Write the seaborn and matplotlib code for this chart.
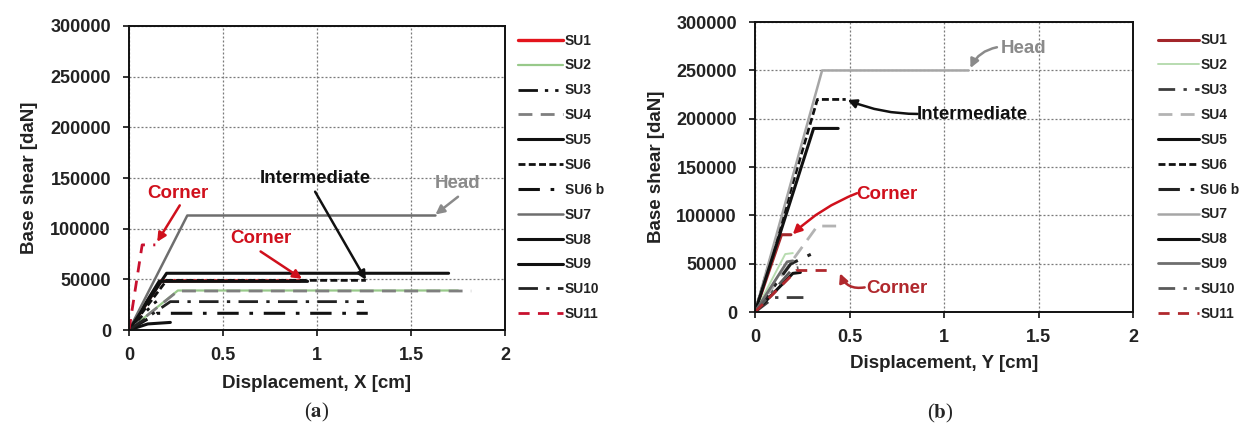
import numpy as np
import pandas as pd
import matplotlib
matplotlib.use("Agg")
import matplotlib.pyplot as plt
import seaborn as sns

# ---- data: bilinear capacity curves (origin -> yield point -> ultimate point)
units = ["SU1", "SU2", "SU3", "SU4", "SU5", "SU6", "SU6 b",
         "SU7", "SU8", "SU9", "SU10", "SU11"]

# X direction
dy_x = [0.17, 0.26, 0.13, 0.26, 0.16, 0.20, 0.15, 0.31, 0.20, 0.10, 0.22, 0.07]
vy_x = [48500, 39000, 26000, 38500, 48000, 49000, 16500, 113000, 56000, 6000, 28000, 84000]
du_x = [0.91, 1.75, 0.16, 1.82, 0.95, 1.26, 1.27, 1.63, 1.70, 0.22, 1.25, 0.14]
vu_x = [48500, 39000, 30000, 38500, 48000, 49000, 16500, 113000, 56000, 7500, 28000, 84000]

# Y direction
dy_y = [0.14, 0.16, 0.10, 0.33, 0.20, 0.33, 0.19, 0.355, 0.31, 0.17, 0.20, 0.22]
vy_y = [80000, 60000, 15000, 89000, 40000, 220000, 50000, 250000, 190000, 52000, 45000, 43000]
du_y = [0.19, 0.20, 0.28, 0.46, 0.24, 0.48, 0.32, 1.13, 0.44, 0.20, 0.23, 0.42]
vu_y = [80000, 61000, 15000, 89000, 41000, 220000, 62000, 250000, 190000, 53000, 46000, 43000]

x_ticks = [0, 0.5, 1, 1.5, 2]
x_tick_labels = ["0", "0.5", "1", "1.5", "2"]
y_ticks = [0, 50000, 100000, 150000, 200000, 250000, 300000]

# ---- styles
DASH = (0, (5, 3))
SHORT = (0, (2.5, 1.2))
DDOT = (0, (7, 2.5, 1.2, 2.5, 1.2, 2.5))
DDOT_B = (0, (7, 3.5, 1.2, 3.5))
SOLID = "-"

style_x = {
    "SU1": ("#e3141c", SOLID, 2.4),
    "SU2": ("#98c98a", SOLID, 1.6),
    "SU3": ("#111111", DDOT, 2.0),
    "SU4": ("#7f7f7f", DASH, 2.0),
    "SU5": ("#111111", SOLID, 2.2),
    "SU6": ("#111111", SHORT, 2.0),
    "SU6 b": ("#111111", DDOT_B, 2.2),
    "SU7": ("#6e6e6e", SOLID, 1.8),
    "SU8": ("#111111", SOLID, 2.2),
    "SU9": ("#111111", SOLID, 2.2),
    "SU10": ("#222222", (0, (7, 3, 1.2, 3)), 2.0),
    "SU11": ("#c8102e", (0, (4, 3)), 2.0),
}
style_y = {
    "SU1": ("#a3262a", SOLID, 2.2),
    "SU2": ("#b8dcb0", SOLID, 1.4),
    "SU3": ("#3c3c3c", (0, (6, 3, 1.2, 3)), 2.0),
    "SU4": ("#b3b3b3", DASH, 2.0),
    "SU5": ("#111111", SOLID, 2.2),
    "SU6": ("#111111", SHORT, 2.0),
    "SU6 b": ("#222222", DDOT_B, 2.2),
    "SU7": ("#a6a6a6", SOLID, 1.8),
    "SU8": ("#111111", SOLID, 2.2),
    "SU9": ("#6e6e6e", SOLID, 2.0),
    "SU10": ("#5a5a5a", (0, (6, 3, 1.2, 3)), 2.0),
    "SU11": ("#b0282d", (0, (4, 3)), 2.0),
}


def curves(dy, vy, du, vu):
    rows = []
    for name, a, b, c, d in zip(units, dy, vy, du, vu):
        rows += [(name, 0.0, 0.0), (name, a, b), (name, c, d)]
    return pd.DataFrame(rows, columns=["unit", "disp", "shear"])


sns.set_theme(style="white")
plt.rcParams["font.family"] = ["Liberation Sans", "DejaVu Sans"]
plt.rcParams["mathtext.fontset"] = "stix"

fig = plt.figure(figsize=(12.5, 4.34), dpi=100)
ax_a = fig.add_axes([0.1032, 0.2396, 0.3008, 0.7005])
ax_b = fig.add_axes([0.604, 0.281, 0.3024, 0.668])

TICK_FS = 13
LAB_FS = 13.5


def draw_panel(ax, df, styles, xlabel, leg_anchor, handle_len):
    for name in units:
        col, ls, lw = styles[name]
        sns.lineplot(data=df[df["unit"] == name], x="disp", y="shear",
                     estimator=None, sort=False, ax=ax, color=col,
                     linestyle=ls, linewidth=lw, label=name)
    ax.set_xlim(0, 2)
    ax.set_ylim(0, 300000)
    ax.set_xticks(x_ticks)
    ax.set_xticklabels(x_tick_labels)
    ax.set_yticks(y_ticks)
    ax.set_yticklabels([f"{v:d}" for v in y_ticks])
    ax.grid(True, color="#7a7a7a", linestyle=(0, (1.6, 1.6)), linewidth=0.9)
    ax.set_axisbelow(True)
    for s in ax.spines.values():
        s.set_color("#111111")
        s.set_linewidth(1.4)
    ax.tick_params(axis="both", direction="out", length=4, width=1.2,
                   color="#111111", labelsize=TICK_FS,
                   bottom=True, left=True)
    ax.tick_params(axis="x", pad=8)
    ax.tick_params(axis="y", pad=9)
    for t in ax.get_xticklabels() + ax.get_yticklabels():
        t.set_fontweight("bold")
        t.set_color("#222222")
    ax.set_xlabel(xlabel, fontsize=LAB_FS, fontweight="bold", color="#222222")
    ax.set_ylabel("Base shear [daN]", fontsize=LAB_FS, fontweight="bold",
                  color="#222222")
    leg = ax.legend(loc="upper left", bbox_to_anchor=leg_anchor,
                    frameon=False, handlelength=handle_len, handletextpad=0.1,
                    labelspacing=0.79, borderaxespad=0.0,
                    prop={"weight": "bold", "size": 9.9})
    for t in leg.get_texts():
        t.set_color("#222222")
    return leg


draw_panel(ax_a, curves(dy_x, vy_x, du_x, vu_x), style_x,
           "Displacement, X [cm]", (1.02, 0.993), 3.3)
draw_panel(ax_b, curves(dy_y, vy_y, du_y, vu_y), style_y,
           "Displacement, Y [cm]", (1.052, 0.98), 2.95)
ax_a.xaxis.labelpad = 8
ax_b.xaxis.labelpad = 7
ax_a.yaxis.labelpad = 9
ax_b.yaxis.labelpad = 8


def note(ax, text, pos, color):
    ax.text(pos[0], pos[1], text, ha="center", va="center",
            fontsize=13.5, fontweight="bold", color=color)


def arrow(ax, start, end, color, lw=1.8, rad=0.0):
    ax.annotate("", xy=end, xytext=start,
                arrowprops=dict(arrowstyle="-|>", color=color, lw=lw,
                                mutation_scale=13,
                                connectionstyle=f"arc3,rad={rad}",
                                shrinkA=0, shrinkB=0))


RED = "#d0101c"
DRED = "#b0282d"

# X direction labels
note(ax_a, "Corner", (0.26, 135000), RED)
arrow(ax_a, (0.27, 123000), (0.15, 87000), RED)
note(ax_a, "Corner", (0.70, 90000), RED)
arrow(ax_a, (0.70, 77500), (0.92, 50500), RED)
note(ax_a, "Intermediate", (0.99, 149500), "#111111")
arrow(ax_a, (0.99, 136500), (1.26, 49500), "#111111")
note(ax_a, "Head", (1.75, 145000), "#8a8a8a")
arrow(ax_a, (1.75, 131500), (1.63, 114000), "#8a8a8a")

# Y direction labels
note(ax_b, "Head", (1.42, 272500), "#8a8a8a")
arrow(ax_b, (1.28, 274000), (1.14, 252500), "#8a8a8a", rad=0.25)
note(ax_b, "Intermediate", (1.15, 204000), "#111111")
arrow(ax_b, (0.86, 205000), (0.49, 219500), "#111111", rad=-0.1)
note(ax_b, "Corner", (0.70, 122000), RED)
arrow(ax_b, (0.54, 123000), (0.20, 80500), RED, rad=0.1)
note(ax_b, "Corner", (0.75, 24500), DRED)
arrow(ax_b, (0.58, 25500), (0.45, 40000), DRED, rad=-0.4)

# panel captions
fig.text(317 / 1250, 1 - 412 / 434, r"($\mathbf{a}$)", ha="center",
         va="center", fontsize=15, family="Liberation Serif")
fig.text(940 / 1250, 1 - 413 / 434, r"($\mathbf{b}$)", ha="center",
         va="center", fontsize=15, family="Liberation Serif")

fig.savefig("out.png", dpi=100, facecolor="white")
